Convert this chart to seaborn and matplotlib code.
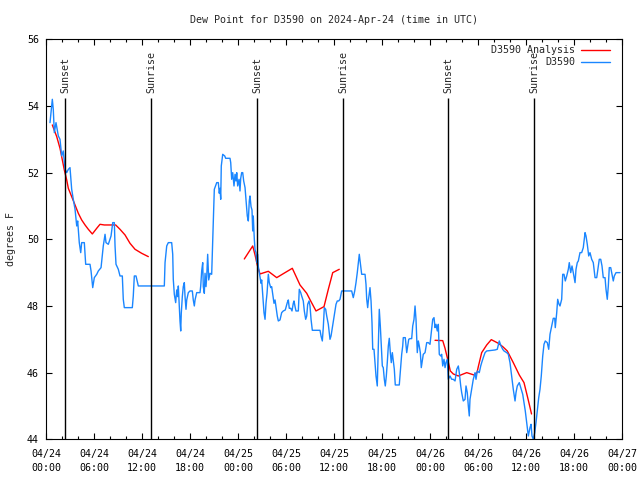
import numpy as np
import pandas as pd
import matplotlib
matplotlib.use("Agg")
import matplotlib.pyplot as plt
import seaborn as sns

# hours after 2024-04-24 00:00 UTC, dew point in F
obs_hours = [
    0.5, 0.79, 0.91, 1.04, 1.25, 1.54, 1.75, 1.96, 2.16, 2.38, 2.59, 2.79, 3.0, 3.21,
    3.41, 3.63, 3.84, 3.96, 4.16, 4.34, 4.46, 4.79, 4.96, 5.5, 5.63, 5.84, 6.04, 6.34,
    6.54, 6.88, 7.16, 7.38, 7.5, 7.79, 8.13, 8.34, 8.54, 8.63, 8.75, 9.04, 9.25, 9.54,
    9.66, 9.79, 10.79, 10.91, 11.04, 11.25, 11.54, 14.79,
    14.88, 15.09, 15.29, 15.71, 15.84, 15.91, 16.04, 16.21, 16.34, 16.46, 16.54, 16.66,
    16.75, 16.84, 16.91, 17.04, 17.16, 17.29, 17.38, 17.5, 17.59, 17.79, 18.0, 18.29,
    18.41, 18.54, 18.63, 18.84, 19.25, 19.34, 19.46, 19.59, 19.66, 19.79, 19.88, 20.0,
    20.09, 20.21, 20.34, 20.5, 20.71, 20.84, 20.96, 21.04, 21.34, 21.54, 21.66, 21.75,
    21.84, 21.91, 22.09, 22.34, 22.46, 23.0, 23.09, 23.21, 23.34, 23.5, 23.63, 23.75,
    23.84, 23.96, 24.13, 24.25, 24.34, 24.46, 24.59, 24.71, 24.88, 25.0, 25.16, 25.29,
    25.41, 25.5, 25.63, 25.75, 25.84, 25.91, 26.04, 26.13, 26.25, 26.34, 26.46, 26.54,
    26.66, 26.75, 26.88, 26.96, 27.09, 27.25, 27.38, 27.5, 27.63, 27.79, 27.91, 28.09,
    28.21, 28.34, 28.5, 28.63, 28.75, 28.91, 29.04, 29.25, 29.46, 29.66, 29.91, 30.16,
    30.29, 30.41,
    30.59, 30.75, 30.91, 31.0, 31.13, 31.25, 31.54, 31.66, 31.84, 31.96, 32.16, 32.29,
    32.46, 32.59, 32.71, 32.88, 33.0, 33.13, 33.29, 34.25, 34.38, 34.54, 34.66, 34.79,
    34.96, 35.09, 35.29, 35.5, 35.63, 35.79, 35.91, 36.09, 36.25, 36.41, 36.59, 36.75,
    36.96, 38.21, 38.41, 38.59, 38.75, 38.91, 39.04, 39.16, 39.34, 39.46, 39.88, 40.0,
    40.09, 40.21, 40.29, 40.5, 40.63, 40.75, 40.84, 41.0, 41.13, 41.25, 41.41, 41.5,
    41.59, 41.66, 41.79, 41.91, 42.04, 42.16, 42.29, 42.41, 42.54, 42.66, 42.79, 42.91,
    43.04, 43.16, 43.29, 43.41, 43.54, 43.66, 44.16, 44.34, 44.46, 44.59, 44.66, 44.91,
    45.09, 45.21, 45.34, 45.5, 45.71, 45.84, 46.0, 46.13, 46.25, 46.34, 46.41, 46.54,
    46.66, 46.79, 46.91, 47.04, 47.16, 47.38, 47.59, 47.79, 48.0,
    48.34, 48.5, 48.63, 48.75, 48.91, 49.04, 49.16, 49.34, 49.46, 49.59, 49.75, 49.88,
    50.0, 50.16, 50.29, 50.5, 50.71, 50.91, 51.13, 51.34, 51.54, 51.66, 51.84, 51.96,
    52.16, 52.38, 52.5, 52.66, 52.79, 52.91, 53.0, 53.21, 53.41, 53.63, 53.75, 53.91,
    54.16, 54.34, 54.46, 54.66, 54.88, 55.09, 55.84, 56.13, 56.41, 56.66, 56.84, 57.09,
    57.25, 57.59, 57.79, 58.0, 58.21, 58.41, 58.63, 58.75, 58.91, 59.16, 59.34, 59.59,
    59.75, 59.91, 60.09, 60.29, 60.5, 60.63, 60.75, 60.91, 61.09, 61.25, 61.41, 61.59,
    61.75, 61.91, 62.09, 62.25, 62.41, 62.66, 62.84, 63.0, 63.21, 63.41, 63.59, 63.66,
    63.84, 63.96, 64.13, 64.25, 64.46, 64.59, 64.75, 64.91, 65.09, 65.29, 65.41, 65.59,
    65.75, 65.91, 66.13, 66.25, 66.41, 66.54, 66.75, 66.96, 67.16, 67.38, 67.5, 67.66,
    67.84, 68.0, 68.21, 68.41, 68.63, 68.84, 69.04, 69.16, 69.34, 69.5, 69.66, 69.88,
    70.0, 70.16, 70.29, 70.41, 70.59, 70.75, 70.91, 71.04, 71.25, 71.75,
]
obs_dewpt = [
    53.5, 54.2, 53.9, 53.2, 53.5, 53.1, 53.0, 52.5, 52.65, 52.1, 52.0, 52.1, 52.15, 51.5,
    51.2, 50.9, 50.4, 50.55, 49.9, 49.6, 49.9, 49.9, 49.25, 49.25, 49.05, 48.55, 48.85, 48.95,
    49.05, 49.15, 49.8, 50.15, 49.9, 49.85, 50.1, 50.5, 50.5, 49.8, 49.25, 49.1, 48.9, 48.9,
    48.2, 47.95, 47.95, 48.3, 48.9, 48.9, 48.6, 48.6,
    49.3, 49.8, 49.9, 49.9, 49.55, 48.8, 48.35, 48.1, 48.48, 48.28, 48.6, 48.0,
    47.55, 47.25, 47.78, 48.28, 48.58, 48.7, 48.28, 47.9, 48.18, 48.4, 48.45, 48.45,
    48.18, 48.0, 48.18, 48.4, 48.4, 48.6, 49.05, 49.3, 48.58, 48.38, 48.98, 48.58,
    48.88, 49.55, 48.78, 48.98, 48.95, 50.0, 50.9, 51.5, 51.7, 51.7, 51.38, 51.53,
    51.2, 52.2, 52.55, 52.5, 52.43, 52.43, 52.3, 51.8, 52.0, 51.6, 51.95, 51.75,
    52.0, 51.6, 51.8, 51.45, 51.83, 52.0, 52.0, 51.75, 51.55, 51.2, 50.7, 50.55,
    51.15, 51.3, 50.98, 50.88, 50.25, 50.7, 50.0, 49.68, 49.6, 49.3, 49.55, 49.18,
    49.0, 48.88, 48.68, 48.78, 48.35, 47.8, 47.6, 48.08, 48.38, 48.95, 48.7, 48.55,
    48.58, 48.35, 48.08, 48.18, 47.98, 47.7, 47.55, 47.58, 47.8, 47.85, 47.88, 48.1,
    48.18, 47.93,
    47.93, 47.85, 48.08, 48.15, 47.98, 47.85, 47.85, 48.5, 48.4, 48.3, 48.15, 47.85,
    47.6, 47.7, 48.05, 48.15, 48.0, 47.6, 47.27, 47.27, 47.1, 46.95, 47.35, 47.95,
    47.9, 47.7, 47.45, 47.0, 47.1, 47.35, 47.55, 47.8, 48.05, 48.15, 48.15, 48.2,
    48.45, 48.45, 48.25, 48.45, 48.7, 49.0, 49.3, 49.55, 49.2, 48.95, 48.95, 48.65,
    48.2, 47.95, 48.15, 48.55, 48.15, 47.5, 46.7, 46.7, 46.3, 45.9, 45.6, 46.4,
    47.3, 47.9, 47.4, 46.8, 46.2, 46.15, 45.8, 45.6, 45.9, 46.3, 46.8, 47.03,
    46.6, 46.3, 46.6, 46.35, 46.1, 45.63, 45.63, 46.2, 46.55, 46.8, 47.05, 47.05,
    46.6, 46.8, 47.0, 47.02, 47.02, 47.4, 47.6, 48.0, 47.6, 47.0, 46.6, 46.95,
    46.8, 46.6, 46.15, 46.35, 46.55, 46.6, 46.9, 46.9, 46.85,
    47.6, 47.65, 47.35, 47.45, 47.25, 47.45, 46.55, 46.5, 46.55, 46.2, 46.4, 46.15,
    46.3, 46.4, 45.8, 45.9, 45.8, 45.8, 45.75, 46.1, 46.2, 46.0, 45.6, 45.4,
    45.15, 45.2, 45.6, 45.4, 45.0, 44.7, 45.2, 45.5, 45.8, 46.0, 45.8, 46.05,
    46.0, 46.2, 46.3, 46.45, 46.6, 46.65, 46.67, 46.68, 46.7, 46.95, 46.82, 46.7,
    46.65, 46.6, 46.55, 46.3, 45.9, 45.5, 45.15, 45.4, 45.6, 45.7, 45.55, 45.35,
    45.1, 44.85, 44.5, 44.1, 44.35, 44.45, 44.1, 44.0, 44.2, 44.5, 44.85, 45.25,
    45.5, 45.9, 46.5, 46.85, 46.95, 46.9, 46.7, 47.15, 47.4, 47.63, 47.63, 47.35,
    47.8, 48.2, 48.05, 48.0, 48.2, 48.95, 48.95, 48.75, 48.9, 49.1, 49.3, 49.0,
    49.2, 49.0, 48.7, 49.1, 49.3, 49.35, 49.6, 49.6, 49.75, 50.2, 50.1, 49.85,
    49.5, 49.6, 49.4, 49.3, 48.85, 48.85, 49.2, 49.4, 49.4, 49.2, 48.85, 48.85,
    48.5, 48.2, 48.6, 49.15, 49.15, 48.95, 48.75, 48.9, 49.0, 49.0,
]

# analysis has gaps, one list per run
ana1_hours = [0.79, 1.34, 1.75, 1.96, 2.29, 2.59, 2.79, 3.21, 3.63, 4.04, 4.46, 4.88,
              5.29, 5.79, 6.34, 6.75, 7.29, 8.71, 9.25, 9.88, 10.5, 11.13, 11.96, 12.79]
ana1_dewpt = [53.43, 53.08, 52.73, 52.48, 52.08, 51.78, 51.53, 51.28, 51.03, 50.78, 50.58,
              50.43, 50.3, 50.16, 50.33, 50.45, 50.43, 50.43, 50.3, 50.13, 49.88, 49.7,
              49.58, 49.48]
ana2_hours = [24.79, 25.84, 26.13, 26.41, 26.75, 27.79, 28.84, 29.88, 30.79, 31.75, 32.59,
              33.13, 33.75, 34.75, 35.29, 35.84, 36.66]
ana2_dewpt = [49.41, 49.8, 49.53, 49.23, 48.96, 49.04, 48.85, 49.0, 49.13, 48.63, 48.38,
              48.13, 47.85, 47.98, 48.5, 49.0, 49.1]
ana3_hours = [48.63, 49.59, 49.88, 50.16, 50.54, 50.91, 51.54, 52.59, 53.5, 53.88, 54.04,
              54.46, 55.09, 55.66, 56.54, 57.09, 57.66, 58.41, 59.16, 59.75, 60.16, 60.38,
              60.69]
ana3_dewpt = [46.97, 46.96, 46.73, 46.45, 46.05, 45.96, 45.9, 46.0, 45.93, 46.0, 46.18,
              46.6, 46.83, 46.99, 46.88, 46.78, 46.65, 46.3, 45.93, 45.7, 45.3, 45.08,
              44.76]

sunset_hours = [2.42, 26.4, 50.3]
sunrise_hours = [13.17, 37.17, 61.05]

tick_hours = list(range(0, 73, 6))
tick_labels = ["04/24\n00:00", "04/24\n06:00", "04/24\n12:00", "04/24\n18:00",
               "04/25\n00:00", "04/25\n06:00", "04/25\n12:00", "04/25\n18:00",
               "04/26\n00:00", "04/26\n06:00", "04/26\n12:00", "04/26\n18:00",
               "04/27\n00:00"]


def main():
    sns.set_theme(style="ticks")
    plt.rcParams["font.family"] = ["DejaVu Sans Mono"]
    plt.rcParams["font.size"] = 7.2

    frames = [pd.DataFrame({"hour": obs_hours, "dewpt": obs_dewpt,
                            "series": "D3590", "seg": 0})]
    for i, (h, d) in enumerate([(ana1_hours, ana1_dewpt), (ana2_hours, ana2_dewpt),
                                (ana3_hours, ana3_dewpt)]):
        frames.append(pd.DataFrame({"hour": h, "dewpt": d,
                                    "series": "D3590 Analysis", "seg": i + 1}))
    df = pd.concat(frames, ignore_index=True)

    fig = plt.figure(figsize=(6.4, 4.8), dpi=100)
    ax = fig.add_axes([46 / 640, 1 - 439.3 / 480, 576 / 640, 400 / 480])

    sns.lineplot(data=df, x="hour", y="dewpt", hue="series", units="seg",
                 estimator=None, sort=False, ax=ax,
                 hue_order=["D3590 Analysis", "D3590"],
                 palette={"D3590 Analysis": "#ff0000", "D3590": "#1a86ff"},
                 linewidth=1.0)

    # sunset / sunrise markers
    ax.vlines(sunset_hours + sunrise_hours, 44, 54.25, color="black", linewidth=1.0)
    for h in sunset_hours:
        ax.text(h, 54.38, "Sunset", rotation=90, ha="center", va="bottom", fontsize=7.2)
    for h in sunrise_hours:
        ax.text(h, 54.38, "Sunrise", rotation=90, ha="center", va="bottom", fontsize=7.2)

    ax.set_xlim(0, 72)
    ax.set_ylim(44, 56)
    ax.set_xticks(tick_hours)
    ax.set_xticklabels(tick_labels)
    for lbl in ax.get_xticklabels():
        lbl.set_linespacing(1.45)
    ax.set_xticks(range(0, 73, 2), minor=True)
    ax.set_yticks(range(44, 57, 2))
    ax.tick_params(axis="both", which="both", direction="in", top=True, right=True,
                   color="black", labelsize=7.2, labelcolor="black", width=0.8)
    ax.tick_params(axis="both", which="major", length=4.5)
    ax.tick_params(axis="x", which="minor", length=2.2)
    ax.tick_params(axis="x", which="major", pad=7)
    ax.tick_params(axis="y", which="major", pad=5)
    for s in ax.spines.values():
        s.set_color("black")
        s.set_linewidth(0.8)

    ax.set_xlabel("")
    ax.set_ylabel("degrees F", fontsize=7.2)
    ax.yaxis.set_label_coords(-0.052, 0.5)
    ax.set_title("Dew Point for D3590 on 2024-Apr-24 (time in UTC)", fontsize=7.2, pad=12)

    ax.legend(loc="upper right", bbox_to_anchor=(0.979, 0.985), frameon=False,
              markerfirst=False, handlelength=2.9, handletextpad=0.6,
              labelspacing=0.2, borderaxespad=0, borderpad=0, fontsize=7.2)

    fig.savefig("out.png", dpi=100)


if __name__ == "__main__":
    main()
